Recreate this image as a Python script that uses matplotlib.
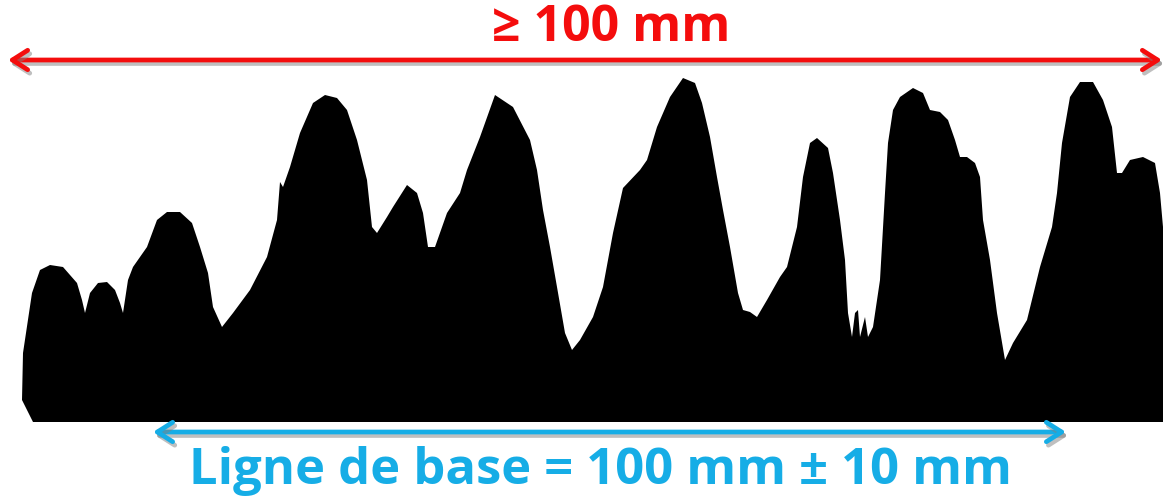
import matplotlib
matplotlib.use("Agg")
import matplotlib.pyplot as plt
import matplotlib.patheffects as pe

# Profile outline (x, height from top in pixel units)
profile_x = [22, 23, 32, 40, 50, 63, 77, 82, 85, 90, 98, 107, 115, 120, 123, 128, 133,
             147, 157, 167, 180, 192, 200, 208, 213, 222, 233, 250, 267, 277, 280, 283,
             290, 300, 313, 325, 337, 347, 357, 367, 372, 377, 387, 393, 407, 417, 423,
             428, 435, 447, 460, 467, 480, 495, 513, 530, 537, 543, 550, 557, 565, 572,
             580, 593, 603, 613, 623, 640, 647, 657, 670, 683, 695, 702, 710, 717, 723,
             730, 738, 743, 750, 757, 767, 780, 787, 797, 803, 810, 817, 828, 833, 840,
             845, 848, 852, 855, 858, 860, 865, 868, 873, 880, 885, 888, 893, 900, 913,
             923, 930, 940, 948, 955, 960, 967, 975, 980, 983, 990, 997, 1005, 1013, 1027,
             1040, 1052, 1057, 1062, 1070, 1080, 1093, 1103, 1112, 1117, 1122, 1130, 1143,
             1155, 1160, 1163, 1163, 33]
profile_y = [400, 353, 293, 270, 265, 267, 283, 300, 313, 293, 283, 282, 290, 303, 313,
             280, 267, 247, 220, 212, 212, 223, 247, 273, 307, 327, 313, 290, 257, 220,
             182, 187, 167, 133, 103, 95, 98, 110, 140, 180, 227, 233, 217, 207, 185, 193,
             213, 247, 247, 213, 193, 170, 137, 95, 107, 140, 170, 210, 247, 287, 333, 350,
             340, 317, 287, 233, 188, 170, 160, 127, 97, 78, 83, 103, 137, 177, 210, 247,
             293, 310, 312, 317, 300, 277, 267, 227, 177, 143, 138, 148, 173, 220, 260, 313,
             337, 313, 310, 337, 317, 337, 327, 280, 193, 143, 110, 97, 88, 93, 110, 112,
             120, 140, 157, 157, 163, 177, 220, 260, 313, 360, 343, 320, 267, 227, 193, 143,
             97, 82, 82, 100, 127, 173, 173, 160, 157, 163, 193, 227, 422, 422]

top_label = "≥ 100 mm"
bottom_label = "Ligne de base = 100 mm ± 10 mm"

red = "#f40d0d"
blue = "#16ade6"

fig = plt.figure(figsize=(11.63, 4.99), dpi=100)
ax = fig.add_axes([0, 0, 1, 1])
ax.set_xlim(0, 1163)
ax.set_ylim(499, 0)
ax.axis("off")

# Black silhouette
ax.fill(profile_x, profile_y, color="black", lw=0)

shadow = [pe.SimpleLineShadow(offset=(1.5, -2.5), shadow_color="gray", alpha=0.5), pe.Normal()]

# Red double arrow on top
ax.annotate("", xy=(8, 60), xytext=(1162, 60),
            arrowprops=dict(arrowstyle="<->,head_length=1.1,head_width=0.7",
                            color=red, lw=3.4, shrinkA=0, shrinkB=0,
                            path_effects=shadow))
ax.text(611, 28, top_label, color=red, fontsize=36, fontweight="bold",
        family="Open Sans", ha="center", va="center")

# Blue double arrow under the baseline
ax.annotate("", xy=(153, 432), xytext=(1066, 432),
            arrowprops=dict(arrowstyle="<->,head_length=1.1,head_width=0.7",
                            color=blue, lw=3.4, shrinkA=0, shrinkB=0,
                            path_effects=shadow))
ax.text(600, 471, bottom_label, color=blue, fontsize=36.5, fontweight="bold",
        family="Open Sans", ha="center", va="center")

fig.savefig("out.png", dpi=100)
